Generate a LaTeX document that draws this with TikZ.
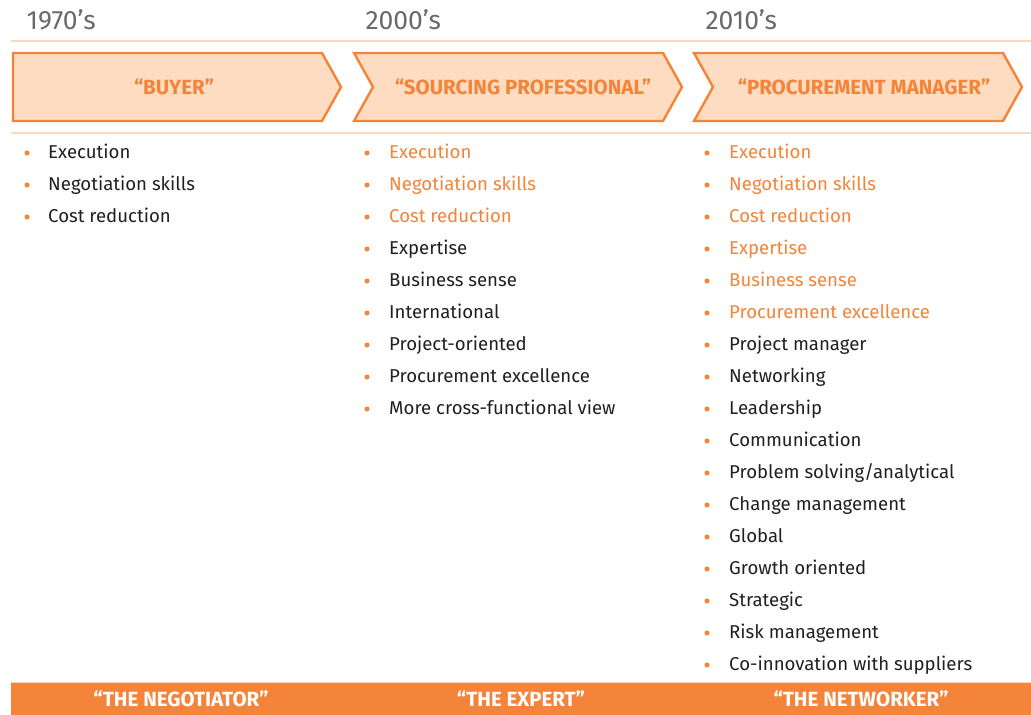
\documentclass[tikz,border=0pt]{standalone}
\usepackage{fontspec}
\setmainfont{Fira Sans}
\definecolor{accent}{HTML}{F4843A}
\definecolor{peach}{HTML}{FDDCC1}
\definecolor{rule}{HTML}{FBD9BE}
\definecolor{yeargray}{HTML}{6A6A6A}
\definecolor{ink}{HTML}{231F20}
\tikzset{
  chevron/.style={draw=accent, fill=peach, line width=2.4pt, line join=miter},
  chevlabel/.style={text=accent, font=\fontsize{20.5}{22}\selectfont\bfseries},
  yearlabel/.style={text=yeargray, font=\fontsize{26.5}{28}\selectfont, anchor=base west},
  divider/.style={draw=rule, line width=1.2pt},
  item/.style={anchor=base west, inner sep=0pt, font=\fontsize{18.6}{20}\selectfont},
  olditem/.style={item, text=accent},
  newitem/.style={item, text=ink},
  dot/.style={circle, fill=accent, inner sep=0pt, minimum size=5pt},
  bandlabel/.style={text=white, font=\fontsize{20.5}{22}\selectfont\bfseries},
}
\begin{document}
\begin{tikzpicture}[x=1pt, y=-1pt]
\useasboundingbox (0,0) rectangle (1031,715);
\fill[white] (0,0) rectangle (1031,715);

% era headings
\node[yearlabel] (y1) at (23,29) {1970’s};
\node[yearlabel] (y2) at (362,29) {2000’s};
\node[yearlabel] (y3) at (702,29) {2010’s};

% horizontal rules
\draw[divider] (11,41) -- (1031,41);
\draw[divider] (11,133) -- (1031,133);

% chevrons
\draw[chevron] (13,53) -- (322,53) -- (341,87) -- (322,121) -- (13,121) -- cycle;
\draw[chevron] (354,53) -- (663,53) -- (682,87) -- (663,121) -- (354,121) -- (373,87) -- cycle;
\draw[chevron] (694,53) -- (1003,53) -- (1022,87) -- (1003,121) -- (694,121) -- (713,87) -- cycle;
\node[chevlabel] (c1) at (174,87) {“BUYER”};
\node[chevlabel] (c2) at (523,87) {“SOURCING PROFESSIONAL”};
\node[chevlabel] (c3) at (864,87) {“PROCUREMENT MANAGER”};

% bullet lists: style/text pairs, one list per column
\foreach \col/\bx/\tx/\items in {
  1/27/48/{newitem/Execution, newitem/Negotiation skills, newitem/Cost reduction},
  2/367/389/{olditem/Execution, olditem/Negotiation skills, olditem/Cost reduction,
    newitem/Expertise, newitem/Business sense, newitem/International,
    newitem/Project-oriented, newitem/Procurement excellence,
    newitem/More cross-functional view},
  3/707/729/{olditem/Execution, olditem/Negotiation skills, olditem/Cost reduction,
    olditem/Expertise, olditem/Business sense, olditem/Procurement excellence,
    newitem/Project manager, newitem/Networking, newitem/Leadership,
    newitem/Communication, newitem/{Problem solving/analytical},
    newitem/Change management, newitem/Global, newitem/Growth oriented,
    newitem/Strategic, newitem/Risk management,
    newitem/Co-innovation with suppliers}} {
  \foreach \st/\txt [count=\i from 0] in \items {
    \pgfmathsetmacro{\yy}{158+32*\i}
    \node[dot] (d\col-\i) at (\bx,\yy-5) {};
    \node[\st] (t\col-\i) at (\tx,\yy) {\txt};
  }
}

% bottom band
\fill[accent] (11,682) rectangle (1031,715);
\draw[divider] (11,682.5) -- (1031,682.5);
\node[bandlabel] (b1) at (181,699) {“THE NEGOTIATOR”};
\node[bandlabel] (b2) at (521,699) {“THE EXPERT”};
\node[bandlabel] (b3) at (861,699) {“THE NETWORKER”};
\end{tikzpicture}
\end{document}
